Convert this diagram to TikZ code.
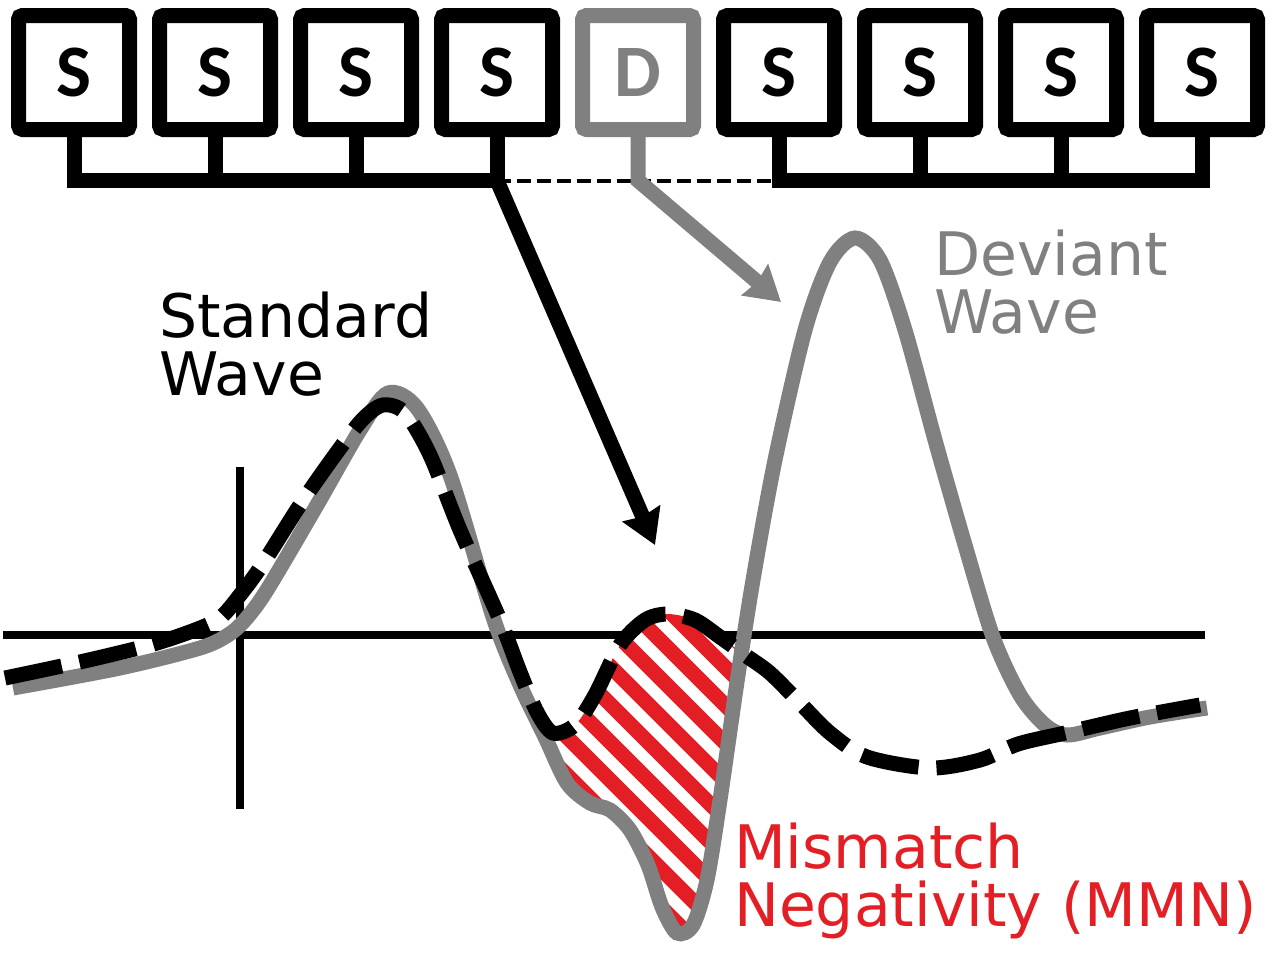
\documentclass[tikz,border=0pt]{standalone}
\usepackage{fontspec}
\setmainfont{DejaVu Sans}
\newfontfamily\boxfont{Carlito}
\usetikzlibrary{arrows.meta}
\definecolor{mygray}{RGB}{128,128,128}
\definecolor{myred}{RGB}{227,30,36}
\begin{document}
\begin{tikzpicture}[x=1pt,y=-1pt,
  seqbox/.style={draw, line width=15pt, rounded corners=4pt, minimum width=111pt,
    minimum height=114pt, inner sep=0pt, font=\boxfont\bfseries\fontsize{74}{74}\selectfont},
  conn/.style={line width=15pt, line join=miter},
  bigtip/.style={-{Stealth[length=34pt,width=40pt,inset=3pt]}},
  wavetext/.style={anchor=base west, align=left, inner sep=0pt, font=\fontsize{60}{57.5}\selectfont},
  axisline/.style={line width=8pt},
  graypath/.style={insert path={plot[smooth,tension=0.5] coordinates {
    (13,688) (120,668) (200,648) (228,635) (245,620) (267,590) (317,505) (360,430)
    (388,393) (417,408) (450,475) (493,617) (520,685) (545,737) (567,783) (590,803)
    (610,810) (630,830) (648,865) (662,907) (677,933) (693,925) (707,880) (720,800)
    (737,682) (753,580) (775,460) (805,330) (830,262) (855,238) (880,260) (905,330)
    (935,440) (965,545) (993,637) (1020,695) (1045,725) (1067,735) (1100,728)
    (1150,717) (1207,708)}}},
  blackpath/.style={insert path={plot[smooth,tension=0.5] coordinates {
    (5,678) (80,662) (150,645) (195,630) (220,618) (240,595) (262,565) (300,505)
    (335,455) (362,420) (383,405) (405,413) (430,455) (460,530) (500,620) (520,672)
    (537,712) (553,733) (575,725) (595,695) (620,645) (645,620) (668,614) (695,620)
    (720,637) (745,655) (770,673) (800,703) (830,733) (867,757) (930,768) (980,760)
    (1018,744) (1065,733) (1130,718) (1200,705)}}}
]
\useasboundingbox (0,0) rectangle (1280,956);

% axes
\coordinate (axL) at (3,635);
\coordinate (axR) at (1205,635);
\coordinate (axT) at (240,467);
\coordinate (axB) at (240,809);
\draw[axisline] (axL) -- (axR);
\draw[axisline] (axT) -- (axB);

% hatched MMN area
\begin{scope}
  \clip (540,560) rectangle (760,950);
  \clip [blackpath] -- (1200,956) -- (5,956) -- cycle;
  \clip [graypath] -- (1207,0) -- (13,0) -- cycle;
  \fill[white] (540,560) rectangle (760,950);
  \foreach \k in {-2,...,11} {
    \pgfmathsetmacro\cc{-246+38*\k}
    \draw[myred, line width=15pt] (400,{400-\cc}) -- (1000,{1000-\cc});
  }
\end{scope}

% waves
\draw[mygray, line width=15pt] [graypath];
\draw[black, line width=15pt, dash pattern=on 58pt off 18pt] [blackpath];

% stimulus sequence
\node[seqbox] (b1) at (74,72.5) {S};
\node[seqbox] (b2) at (215,72.5) {S};
\node[seqbox] (b3) at (356,72.5) {S};
\node[seqbox] (b4) at (497,72.5) {S};
\node[seqbox, draw=mygray, text=mygray] (b5) at (638,72.5) {D};
\node[seqbox] (b6) at (779,72.5) {S};
\node[seqbox] (b7) at (920,72.5) {S};
\node[seqbox] (b8) at (1061,72.5) {S};
\node[seqbox] (b9) at (1202,72.5) {S};

\coordinate (bar) at (0,180.5);
\draw[line width=4pt, dash pattern=on 14pt off 6pt] (b4 |- bar) -- (b6 |- bar);
\draw[conn] (b1.south) -- (b1 |- bar) -- (b4 |- bar) -- (b4.south);
\draw[conn] (b2.south) -- (b2 |- bar);
\draw[conn] (b3.south) -- (b3 |- bar);
\draw[conn] (b6.south) -- (b6 |- bar) -- (b9 |- bar) -- (b9.south);
\draw[conn] (b7.south) -- (b7 |- bar);
\draw[conn] (b8.south) -- (b8 |- bar);

\coordinate (stdtip) at (655,545);
\coordinate (devtip) at (781,302);
\draw[conn, bigtip] (b4 |- bar) -- (stdtip);
\draw[conn, mygray, bigtip] (b5.south) -- (b5 |- bar) -- (devtip);

% labels (anchor = baseline of last line)
\node[wavetext] (stdlbl) at (159,395) {Standard\\Wave};
\node[wavetext, text=mygray] (devlbl) at (934,333) {Deviant\\Wave};
\node[wavetext, text=myred] (mmnlbl) at (734,926) {Mismatch\\Negativity (MMN)};
\end{tikzpicture}
\end{document}
